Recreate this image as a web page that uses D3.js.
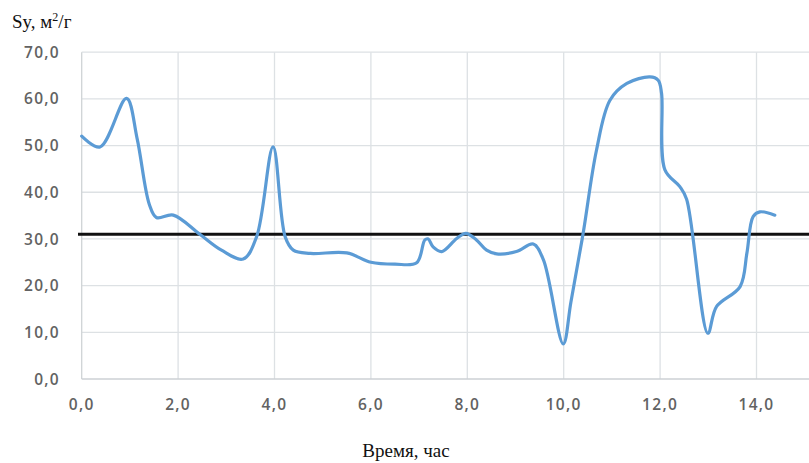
<!DOCTYPE html>
<html><head><meta charset="utf-8">
<script src="https://cdn.jsdelivr.net/npm/d3@7"></script>
<style>
html,body{margin:0;padding:0;background:#fff;}
svg{display:block;}
</style></head>
<body>
<svg id="chart" width="809" height="463"></svg>
<script>
// Data
const times  = [0, 0.38, 0.93, 1.15, 1.4, 1.55, 1.9, 2.45, 2.9, 3.35, 3.63, 3.97, 4.22, 4.39, 4.74, 5.5, 6.0, 6.5, 6.95, 7.12, 7.19, 7.29, 7.47, 7.78, 7.97, 8.19, 8.4, 8.61, 9.02, 9.37, 9.58, 9.99, 10.15, 10.4, 10.68, 10.96, 11.31, 11.79, 11.96, 12.03, 12.1, 12.41, 12.55, 12.99, 13.17, 13.66, 13.8, 13.93, 14.07, 14.38];
const values = [52.0, 49.7, 60.1, 51.5, 37.5, 34.6, 35.1, 31.0, 27.6, 25.7, 30.5, 49.7, 30.5, 27.6, 26.9, 27.0, 25.0, 24.6, 24.9, 29.8, 30.0, 28.3, 27.3, 30.1, 31.2, 29.8, 27.6, 26.8, 27.3, 28.9, 25.5, 7.5, 16.5, 31.0, 49.0, 59.7, 63.3, 64.7, 64.0, 61.2, 44.8, 41.2, 38.5, 9.8, 15.5, 19.8, 26.9, 34.8, 35.8, 35.1];
const referenceLevel = 31;
const xTicks = [0, 2, 4, 6, 8, 10, 12, 14];
const yTicks = [0, 10, 20, 30, 40, 50, 60, 70];
const yTitle = "Sy, м";
const xTitle = "Время, час";

const svg = d3.select("#chart");
const W = 809;
const x = d3.scaleLinear().domain([0, 16]).range([81.7, 852.9]);
const y = d3.scaleLinear().domain([0, 70]).range([379, 52.2]);
const fmt = v => d3.format(".1f")(v).replace(".", ",");

// gridlines
const grid = svg.append("g");
grid.selectAll("line.h").data(yTicks.filter(d => d > 0)).join("line")
  .attr("x1", x(0)).attr("x2", W)
  .attr("y1", d => y(d)).attr("y2", d => y(d))
  .attr("stroke", "#dde1e4").attr("stroke-width", 1.3);
grid.selectAll("line.v").data(xTicks).join("line")
  .attr("x1", d => x(d)).attr("x2", d => x(d))
  .attr("y1", y(70)).attr("y2", y(0))
  .attr("stroke", d => d === 0 ? "#cfd3d6" : "#dde1e4").attr("stroke-width", 1.3);
// bottom axis line
svg.append("line").attr("x1", x(0)).attr("x2", W).attr("y1", y(0)).attr("y2", y(0))
  .attr("stroke", "#cdd1d4").attr("stroke-width", 1.5);

// tick labels
const tickFont = "'Open Sans', sans-serif";
svg.append("g").selectAll("text").data(yTicks).join("text")
  .attr("x", 60).attr("y", d => y(d)).attr("dy", "0.36em")
  .attr("text-anchor", "end")
  .attr("font-family", tickFont).attr("font-weight", 600).attr("font-size", 15.5)
  .attr("letter-spacing", 1.3).attr("fill", "#626262")
  .text(fmt);
svg.append("g").selectAll("text").data(xTicks).join("text")
  .attr("x", d => x(d)).attr("y", 410)
  .attr("text-anchor", "middle")
  .attr("font-family", tickFont).attr("font-weight", 600).attr("font-size", 15.5)
  .attr("letter-spacing", 1.3).attr("fill", "#626262")
  .text(fmt);

// reference level line
svg.append("line").attr("x1", 78).attr("x2", W)
  .attr("y1", y(referenceLevel)).attr("y2", y(referenceLevel))
  .attr("stroke", "#111").attr("stroke-width", 3);

// data line
const pts = times.map((t, i) => [t, values[i]]);
const line = d3.line().x(d => x(d[0])).y(d => y(d[1])).curve(d3.curveCatmullRom.alpha(0.5));
svg.append("path").datum(pts).attr("d", line)
  .attr("fill", "none").attr("stroke", "#5b9bd5").attr("stroke-width", 3.2)
  .attr("stroke-linejoin", "round").attr("stroke-linecap", "round");

// titles
const yt = svg.append("text").attr("x", 12).attr("y", 28)
  .attr("font-family", "'Liberation Serif', 'Times New Roman', serif").attr("font-size", 19).attr("fill", "#111");
yt.append("tspan").text(yTitle);
yt.append("tspan").attr("dy", -7).attr("font-size", 12).text("2");
yt.append("tspan").attr("dy", 7).text("/г");

svg.append("text").attr("x", 406).attr("y", 457).attr("text-anchor", "middle")
  .attr("font-family", "'Liberation Serif', 'Times New Roman', serif").attr("font-size", 19).attr("fill", "#111")
  .text(xTitle);
</script>
</body></html>
